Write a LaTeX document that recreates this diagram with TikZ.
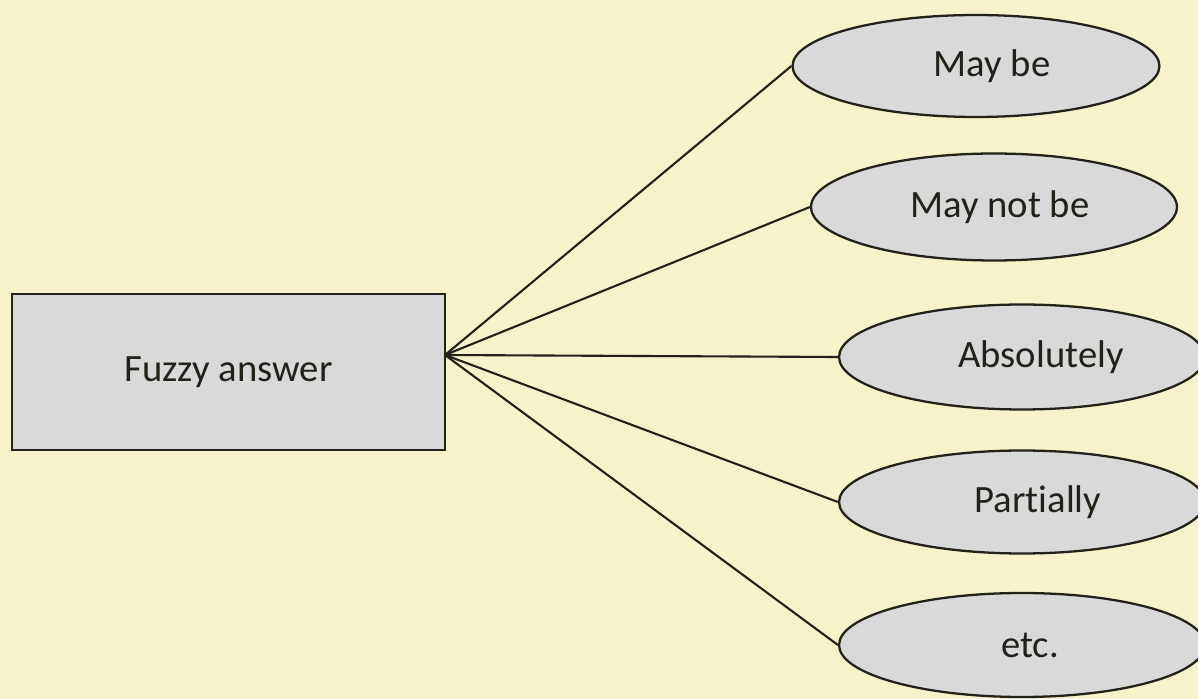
\documentclass[tikz,border=0pt]{standalone}
\usepackage{fontspec}
\setmainfont[RawFeature={-liga;-clig;-calt;-dlig}]{Carlito}
\usetikzlibrary{shapes.geometric,positioning}
\definecolor{paper}{HTML}{F6F2CA}
\definecolor{boxgray}{HTML}{D9D9D9}
\definecolor{ink}{HTML}{22221A}
\tikzset{
  answerbox/.style={draw=ink,fill=boxgray,line width=1.3pt,minimum width=8.66cm,
    minimum height=3.12cm,font=\fontsize{22}{26}\selectfont,text=ink},
  choice/.style={ellipse,draw=ink,fill=boxgray,line width=1.3pt,inner sep=0pt},
  choicetext/.style={font=\fontsize{22}{26}\selectfont,text=ink},
  spoke/.style={draw=ink,line width=1.2pt}
}
\begin{document}
\begin{tikzpicture}[x=0.02cm,y=-0.02cm]
  \fill[paper] (0,0) rectangle (1198,699);
  \useasboundingbox (0,0) rectangle (1198,699);
  \clip (0,0) rectangle (1198,699);
  \node[answerbox] (fuzzy) at (228.5,372) {Fuzzy answer};
  \coordinate (hub) at (445,355);
  \foreach \name/\x/\y/\w/\h/\dx/\txt in {maybe/976/66/7.34/2.04/0.32/May be,
      maynot/994/207/7.32/2.14/0.12/May not be,
      absolutely/1022/357/7.32/2.10/0.38/Absolutely,
      partially/1022/502/7.32/2.06/0.32/Partially,
      etc/1022/645/7.32/2.08/0.16/etc.} {
    \node[choice,minimum width=\w cm,minimum height=\h cm,
      label={[choicetext,xshift=\dx cm]center:\txt}] (\name) at (\x,\y) {};
    \draw[spoke] (hub) -- (\name.west);
  }
\end{tikzpicture}
\end{document}
